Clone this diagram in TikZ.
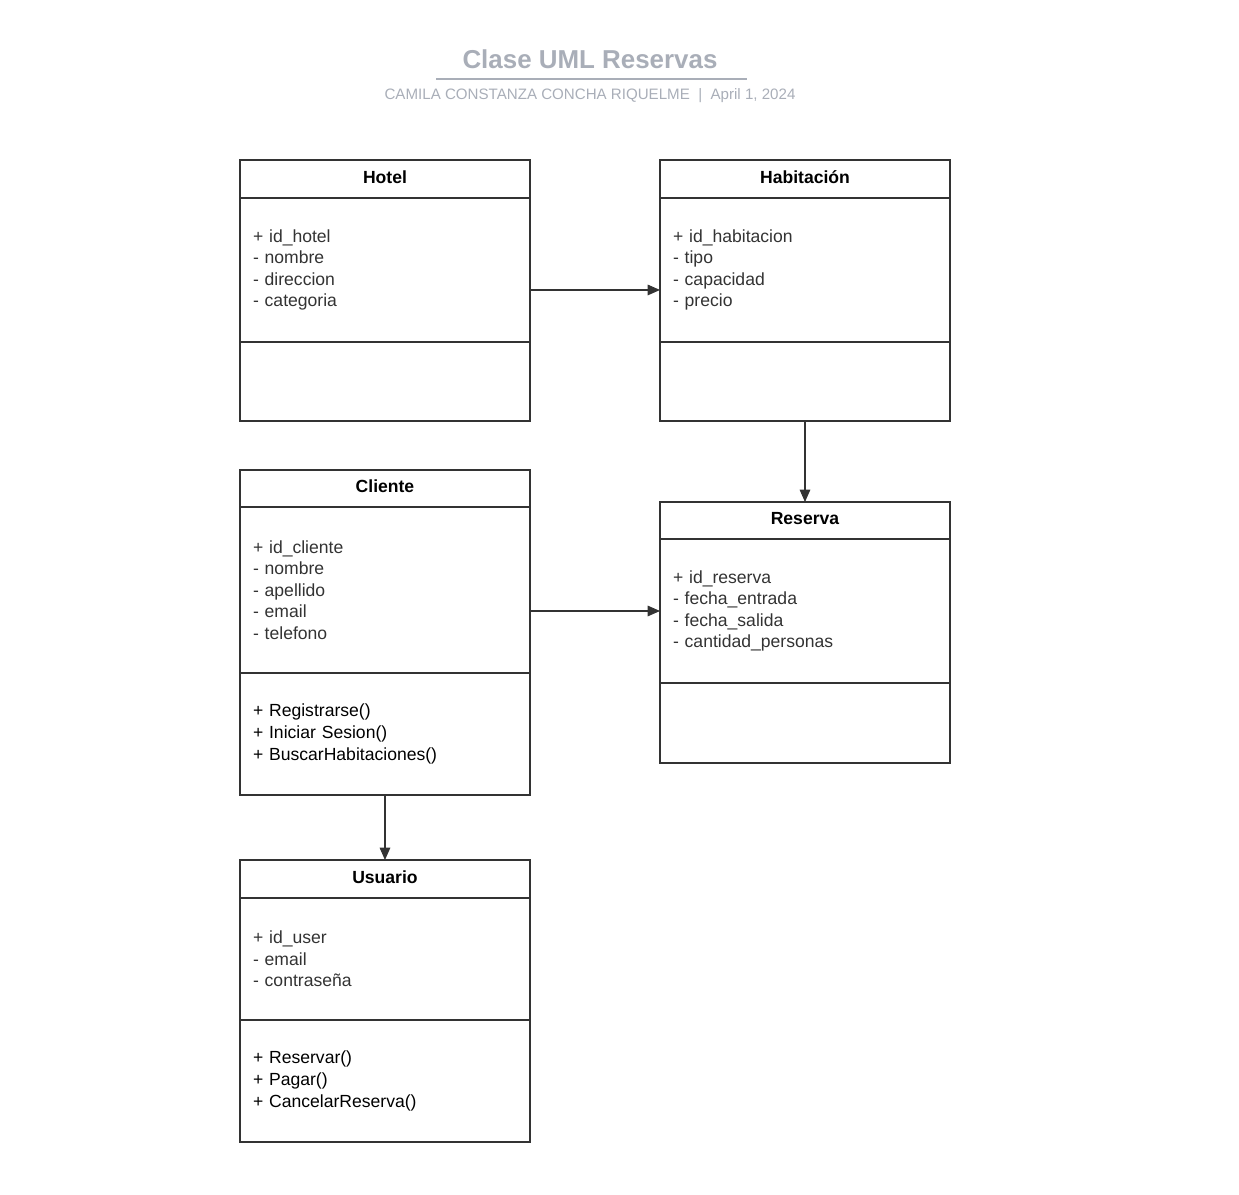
\documentclass[tikz,border=0pt]{standalone}
\usepackage{fontspec}
\setmainfont{Liberation Sans}
\usetikzlibrary{positioning,arrows.meta}
\definecolor{titlegray}{HTML}{A9AEB8}
\definecolor{linegray}{HTML}{333333}

\begin{document}
\begin{tikzpicture}[x=0.02cm,y=-0.02cm]
	\tikzstyle{box}=[draw=linegray,line width=1.1pt,outer sep=0pt,minimum width=5.8cm,text width=5.28cm,inner xsep=0.26cm,inner ysep=0pt]
	\tikzstyle{head}=[box,align=center,text=black,text depth=2.3pt,font=\bfseries\fontsize{10}{12}\selectfont,minimum height=0.76cm]
	\tikzstyle{attrs}=[box,align=left,text=linegray,font=\fontsize{10}{12.3}\selectfont]
	\tikzstyle{ops}=[box,align=left,text=black,font=\fontsize{10}{12.3}\selectfont]
	\tikzstyle{assoc}=[draw=linegray,line width=0.6pt,-{Triangle[length=7pt,width=6pt]}]
	
	\useasboundingbox (0,0) rectangle (1239,1194);
	
	% title
	\node [text=titlegray,font=\bfseries\fontsize{14.75}{18}\selectfont] (title) at (590,59) {Clase UML Reservas};
	\draw [titlegray,line width=1.2pt] (436,79) -- (747,79);
	\node [text=titlegray,font=\fontsize{8.6}{10}\selectfont] (subtitle) at (590,96) {CAMILA CONSTANZA CONCHA RIQUELME \ | \ April 1, 2024};
	
	% Hotel
	\node [head,anchor=north west] (hotel) at (240,160) {Hotel};
	\node [attrs,minimum height=2.88cm,below=0pt of hotel] (hotel-a) {+ id\_hotel\\- nombre\\- direccion\\- categoria};
	\node [ops,minimum height=1.58cm,below=0pt of hotel-a] (hotel-o) {};
	
	% Habitacion
	\node [head,anchor=north west] (hab) at (660,160) {Habitación};
	\node [attrs,minimum height=2.88cm,below=0pt of hab] (hab-a) {+ id\_habitacion\\- tipo\\- capacidad\\- precio};
	\node [ops,minimum height=1.58cm,below=0pt of hab-a] (hab-o) {};
	
	% Cliente
	\node [head,anchor=north west,minimum height=0.74cm] (cliente) at (240,470) {Cliente};
	\node [attrs,minimum height=3.32cm,below=0pt of cliente] (cliente-a) {+ id\_cliente\\- nombre\\- apellido\\- email\\- telefono};
	\node [ops,minimum height=2.44cm,below=0pt of cliente-a] (cliente-o) {+ Registrarse()\\+ Iniciar Sesion()\\+ BuscarHabitaciones()};
	
	% Reserva
	\node [head,anchor=north west,minimum height=0.74cm] (reserva) at (660,502) {Reserva};
	\node [attrs,minimum height=2.88cm,below=0pt of reserva] (reserva-a) {+ id\_reserva\\- fecha\_entrada\\- fecha\_salida\\- cantidad\_personas};
	\node [ops,minimum height=1.6cm,below=0pt of reserva-a] (reserva-o) {};
	
	% Usuario
	\node [head,anchor=north west] (usuario) at (240,860) {Usuario};
	\node [attrs,minimum height=2.44cm,below=0pt of usuario] (usuario-a) {+ id\_user\\- email\\- contraseña};
	\node [ops,minimum height=2.44cm,below=0pt of usuario-a] (usuario-o) {+ Reservar()\\+ Pagar()\\+ CancelarReserva()};
	
	% relations
	\draw [assoc] ([yshift=-0.4cm]hotel-a.east) -- ([yshift=-0.4cm]hab-a.west);
	\draw [assoc] (hab-o.south) -- (reserva.north);
	\draw [assoc] (cliente-a.east |- reserva-a.west) -- (reserva-a.west);
	\draw [assoc] (cliente-o.south) -- (usuario.north);
\end{tikzpicture}
\end{document}
